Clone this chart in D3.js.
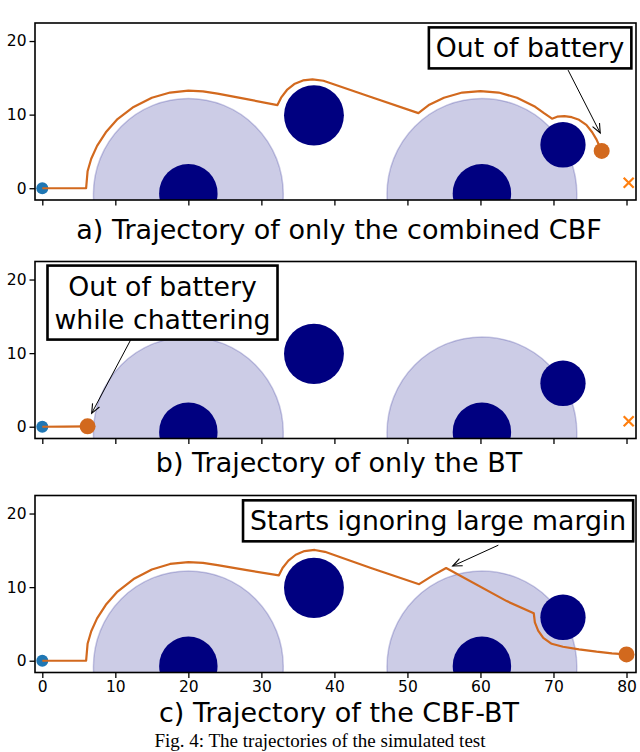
<!DOCTYPE html>
<html>
<head>
<meta charset="utf-8">
<script src="https://cdn.jsdelivr.net/npm/d3@7"></script>
<style>
  body { margin: 0; background: #fff; }
  svg { display: block; }
</style>
</head>
<body>
<svg id="fig" width="640" height="752"></svg>
<script>
// ---- data ----
const xTicks = [0, 10, 20, 30, 40, 50, 60, 70, 80];
const yTicks = [0, 10, 20];

// [cx, cy, r] in plot units
const halos = [[20, -0.8, 13], [60.2, -0.8, 13]];
const obstacles = [[20, -0.7, 4], [37.2, 9.9, 4.1], [60.2, -0.7, 4], [71.3, 5.9, 3.1]];

const startPt = [0, 0];
const goalPt = [80.3, 0.75];

const trajA = [
  [0, 0], [6, 0], [6.2, 2.3], [6.7, 4], [7.5, 5.75], [8.7, 7.6], [10.3, 9.4], [12.5, 11.05],
  [15, 12.3], [17.5, 13], [20, 13.25], [22, 13.15], [24, 12.85], [28, 12.1], [32.2, 11.3],
  [32.7, 12.3], [33.5, 13.35], [34.5, 14.15], [35.7, 14.65], [37, 14.8], [38.5, 14.6],
  [45, 12.4], [51.5, 10.2], [53, 11.35], [55, 12.3], [57.5, 13], [60, 13.2], [62.5, 13],
  [65, 12.3], [67.5, 11.06], [68.7, 10.2], [69.8, 9.45], [70.5, 9.72], [71.5, 9.8],
  [72.5, 9.65], [73.5, 9.3], [74.5, 8.6], [75.3, 7.6], [75.9, 6.6], [76.3, 5.7], [76.6, 5.07]
];
const trajB = [[0, 0], [3, 0.02], [6.2, 0.05]];
const trajC = [
  [0, 0], [6, 0], [6.2, 2.3], [6.7, 4], [7.5, 5.75], [8.7, 7.6], [10.3, 9.4], [12.5, 11.1],
  [15, 12.4], [17.5, 13.15], [20, 13.4], [22, 13.3], [24, 13], [28, 12.3], [32.4, 11.6],
  [32.9, 12.6], [33.7, 13.6], [34.7, 14.4], [35.9, 14.9], [37.3, 15.05], [38.7, 14.8],
  [45, 12.6], [51.6, 10.4], [53.5, 11.6], [55.3, 12.6], [63.6, 8.1], [67.3, 6.45],
  [67.45, 5.2], [67.9, 4.1], [68.6, 3.1], [69.75, 2.3], [71.3, 1.9], [73.5, 1.55],
  [75.9, 1.23], [78, 1.0], [80, 0.86]
];

const captions = [
  "a) Trajectory of only the combined CBF",
  "b) Trajectory of only the BT",
  "c) Trajectory of the CBF-BT"
];
const noteText = [
  ["Out of battery"],
  ["Out of battery", "while chattering"],
  ["Starts ignoring large margin"]
];
// text centre, arrow start, arrow tip (plot units)
const noteAt = [
  { text: [66.8, 19.0], from: [72.0, 16.05], to: [76.4, 7.5] },
  { text: [16.46, 16.8], from: [12.1, 11.8], to: [6.76, 1.82] },
  { text: [54.2, 18.94], from: [62.45, 15.7], to: [56.2, 12.87] }
];
const figCaption = "Fig. 4: The trajectories of the simulated test";

// ---- layout ----
const left = 35, right = 636, plotH = 177;
const panels = [
  { top: 23, traj: trajA, goal: true, labels: false, capGap: 39 },
  { top: 261.5, traj: trajB, goal: true, labels: false, capGap: 33 },
  { top: 495.5, traj: trajC, goal: false, labels: true, capGap: 49.5 }
];

const orange = "#d2691e", navy = "#000080", blue = "#1f77b4";
const font = "'DejaVu Sans', sans-serif";

const svg = d3.select("#fig");
const x = d3.scaleLinear().domain([-1, 81.3]).range([left, right]);

panels.forEach((p, i) => {
  const y = d3.scaleLinear().domain([-1.6, 22.45]).range([p.top + plotH, p.top]);
  const g = svg.append("g");
  const clipId = "clip" + i;
  g.append("clipPath").attr("id", clipId).append("rect")
    .attr("x", left).attr("y", p.top).attr("width", right - left).attr("height", plotH);

  const plot = g.append("g").attr("clip-path", `url(#${clipId})`);
  const rx = r => x(r) - x(0);
  const ry = r => y(0) - y(r);

  plot.selectAll(".halo").data(halos).enter().append("ellipse")
    .attr("cx", d => x(d[0])).attr("cy", d => y(d[1]))
    .attr("rx", d => rx(d[2])).attr("ry", d => ry(d[2]))
    .attr("fill", navy).attr("fill-opacity", 0.2)
    .attr("stroke", navy).attr("stroke-opacity", 0.2).attr("stroke-width", 1.5);

  plot.selectAll(".obs").data(obstacles).enter().append("ellipse")
    .attr("cx", d => x(d[0])).attr("cy", d => y(d[1]))
    .attr("rx", d => rx(d[2])).attr("ry", d => ry(d[2]))
    .attr("fill", navy);

  plot.append("circle").attr("cx", x(startPt[0])).attr("cy", y(startPt[1]))
    .attr("r", 6).attr("fill", blue);

  const line = d3.line().x(d => x(d[0])).y(d => y(d[1]));
  plot.append("path").datum(p.traj).attr("d", line)
    .attr("fill", "none").attr("stroke", orange).attr("stroke-width", 2.2)
    .attr("stroke-linejoin", "round");

  const end = p.traj[p.traj.length - 1];
  plot.append("circle").attr("cx", x(end[0])).attr("cy", y(end[1]))
    .attr("r", 8).attr("fill", orange);

  if (p.goal) {
    const gx = x(goalPt[0]), gy = y(goalPt[1]), s = 5;
    plot.append("path")
      .attr("d", `M${gx - s},${gy - s}L${gx + s},${gy + s}M${gx - s},${gy + s}L${gx + s},${gy - s}`)
      .attr("stroke", "#ff7f0e").attr("stroke-width", 2.2);
  }

  // axes
  const xa = g.append("g").attr("transform", `translate(0,${p.top + plotH})`)
    .call(d3.axisBottom(x).tickValues(xTicks).tickSize(5.5).tickPadding(3)
      .tickFormat(p.labels ? d3.format("d") : ""));
  const ya = g.append("g").attr("transform", `translate(${left},0)`)
    .call(d3.axisLeft(y).tickValues(yTicks).tickSize(5.5).tickPadding(3));
  [xa, ya].forEach(a => {
    a.select(".domain").remove();
    a.selectAll("line").attr("stroke", "#000").attr("stroke-width", 1.3);
    a.selectAll("text").attr("fill", "#000").style("font-family", font).style("font-size", "15.5px");
  });

  g.append("rect").attr("x", left).attr("y", p.top)
    .attr("width", right - left).attr("height", plotH)
    .attr("fill", "none").attr("stroke", "#000").attr("stroke-width", 1.6);

  // annotation
  const n = noteAt[i];
  const ax0 = x(n.from[0]), ay0 = y(n.from[1]), ax1 = x(n.to[0]), ay1 = y(n.to[1]);
  g.append("line").attr("x1", ax0).attr("y1", ay0).attr("x2", ax1).attr("y2", ay1)
    .attr("stroke", "#000").attr("stroke-width", 1);
  const ang = Math.atan2(ay1 - ay0, ax1 - ax0), hl = 10, hw = 0.4;
  g.append("path")
    .attr("d", `M${ax1 - hl * Math.cos(ang - hw)},${ay1 - hl * Math.sin(ang - hw)}L${ax1},${ay1}L${ax1 - hl * Math.cos(ang + hw)},${ay1 - hl * Math.sin(ang + hw)}`)
    .attr("fill", "none").attr("stroke", "#000").attr("stroke-width", 1.1);

  const lines = noteText[i];
  const lh = 33;
  const box = g.append("rect");
  const txt = g.append("text").attr("text-anchor", "middle")
    .style("font-family", font).style("font-size", "26.7px").attr("fill", "#000");
  lines.forEach((s, k) => {
    txt.append("tspan").attr("x", x(n.text[0]))
      .attr("y", y(n.text[1]) + 9 + (k - (lines.length - 1) / 2) * lh).text(s);
  });
  const bb = txt.node().getBBox();
  box.attr("x", bb.x - 7).attr("y", bb.y - 5).attr("width", bb.width + 14).attr("height", bb.height + 10)
    .attr("fill", "#fff").attr("stroke", "#000").attr("stroke-width", 2.6);

  svg.append("text").attr("x", 339).attr("y", p.top + plotH + p.capGap)
    .attr("text-anchor", "middle").style("font-family", font).style("font-size", "27px")
    .attr("fill", "#000").text(captions[i]);
});

svg.append("text").attr("x", 320).attr("y", 746.5).attr("text-anchor", "middle")
  .style("font-family", "'Liberation Serif', 'Times New Roman', serif").style("font-size", "19px")
  .attr("fill", "#000").text(figCaption);
</script>
</body>
</html>
